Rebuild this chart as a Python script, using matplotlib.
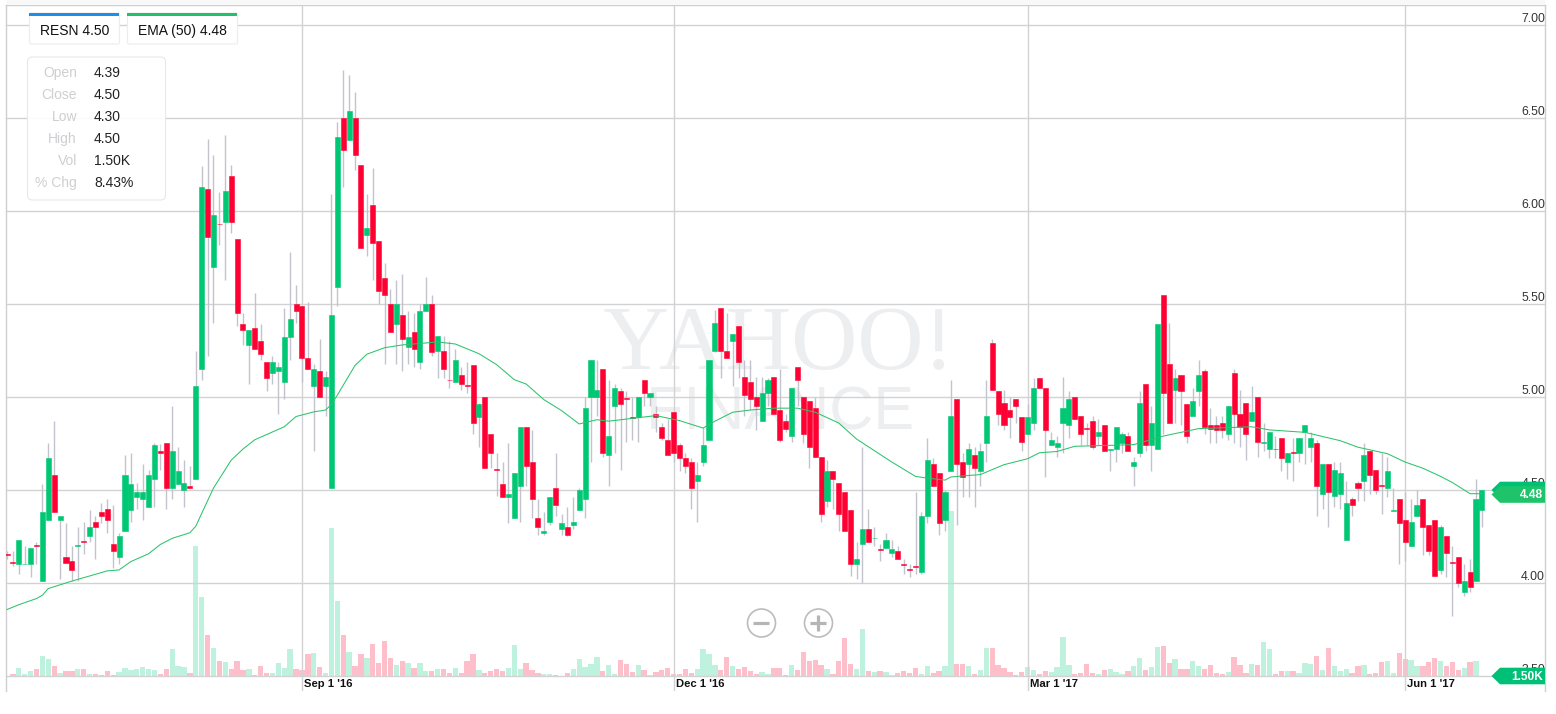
import matplotlib
matplotlib.use("Agg")
import matplotlib.pyplot as plt
from matplotlib.patches import Circle, FancyBboxPatch, Polygon, Rectangle

plt.rcParams["font.family"] = ["Liberation Sans", "DejaVu Sans"]

# ----- data -----
opens = [
    4.155, 4.113, 4.10, 4.10, 4.10, 4.203, 4.01, 4.34, 4.58, 4.34,
    4.14, 4.12, 4.20, 4.223, 4.25, 4.33, 4.38, 4.40, 4.21, 4.14,
    4.28, 4.39, 4.46, 4.45, 4.41, 4.56, 4.71, 4.75, 4.51, 4.53,
    4.50, 4.52, 4.56, 5.15, 6.12, 5.70, 5.933, 5.94, 6.19, 5.85,
    5.39, 5.28, 5.37, 5.30, 5.19, 5.13, 5.14, 5.08, 5.32, 5.50,
    5.49, 5.21, 5.06, 5.14, 5.06, 4.51, 5.59, 6.50, 6.38, 6.50,
    6.25, 5.87, 6.03, 5.84, 5.64, 5.50, 5.39, 5.44, 5.27, 5.35,
    5.19, 5.46, 5.50, 5.25, 5.25, 5.093, 5.08, 5.12, 5.063, 5.17,
    4.89, 5.00, 4.80, 4.613, 4.53, 4.46, 4.35, 4.52, 4.84, 4.65,
    4.35, 4.27, 4.33, 4.51, 4.29, 4.30, 4.31, 4.39, 4.45, 5.00,
    5.00, 5.15, 4.69, 4.95, 5.03, 4.993, 4.893, 4.89, 5.09, 5.00,
    4.91, 4.84, 4.77, 4.92, 4.74, 4.67, 4.65, 4.55, 4.65, 4.77,
    5.25, 5.48, 5.25, 5.30, 5.38, 5.11, 5.08, 5.00, 4.87, 5.02,
    5.11, 4.93, 4.87, 4.79, 5.16, 5.00, 4.98, 4.94, 4.68, 4.44,
    4.60, 4.54, 4.49, 4.39, 4.10, 4.21, 4.29, 4.24, 4.18, 4.19,
    4.16, 4.17, 4.10, 4.073, 4.09, 4.06, 4.36, 4.64, 4.59, 4.34,
    4.60, 4.99, 4.65, 4.64, 4.69, 4.60, 4.75, 5.29, 5.03, 4.97,
    4.93, 4.99, 4.89, 4.80, 4.86, 5.10, 5.05, 4.74, 4.73, 4.86,
    4.85, 5.00, 4.90, 4.835, 4.87, 4.79, 4.85, 4.715, 4.72, 4.75,
    4.79, 4.63, 4.70, 5.07, 4.74, 4.72, 5.55, 5.18, 5.04, 5.12,
    4.96, 4.90, 5.03, 5.14, 4.85, 4.85, 4.86, 4.80, 5.13, 4.91,
    4.97, 4.87, 5.00, 4.755, 4.72, 4.723, 4.78, 4.65, 4.703, 4.70,
    4.81, 4.73, 4.75, 4.48, 4.64, 4.47, 4.48, 4.23, 4.45, 4.54,
    4.55, 4.71, 4.61, 4.525, 4.51, 4.385, 4.45, 4.34, 4.20, 4.36,
    4.45, 4.31, 4.34, 4.07, 4.25, 4.115, 4.14, 3.95, 4.06, 4.01, 4.39,
]
closes = [
    4.15, 4.11, 4.23, 4.103, 4.19, 4.20, 4.38, 4.67, 4.38, 4.36,
    4.11, 4.07, 4.205, 4.22, 4.30, 4.30, 4.36, 4.34, 4.17, 4.25,
    4.58, 4.53, 4.49, 4.49, 4.58, 4.74, 4.70, 4.51, 4.71, 4.60,
    4.54, 4.51, 5.06, 6.13, 5.86, 5.98, 5.93, 6.11, 5.94, 5.45,
    5.36, 5.36, 5.26, 5.23, 5.10, 5.19, 5.16, 5.32, 5.42, 5.46,
    5.21, 5.15, 5.15, 5.00, 5.11, 5.44, 6.40, 6.33, 6.54, 6.30,
    5.80, 5.91, 5.83, 5.57, 5.55, 5.35, 5.50, 5.31, 5.32, 5.26,
    5.46, 5.50, 5.24, 5.33, 5.15, 5.09, 5.20, 5.07, 5.06, 4.86,
    4.96, 4.62, 4.70, 4.61, 4.46, 4.48, 4.59, 4.84, 4.63, 4.45,
    4.30, 4.28, 4.46, 4.42, 4.32, 4.26, 4.33, 4.50, 4.94, 5.20,
    5.04, 4.70, 4.79, 5.05, 4.96, 4.99, 4.885, 5.00, 5.02, 5.02,
    4.89, 4.78, 4.69, 4.70, 4.67, 4.63, 4.51, 4.58, 4.74, 5.20,
    5.40, 5.25, 5.21, 5.34, 5.19, 5.01, 4.99, 4.95, 5.02, 5.09,
    4.91, 4.77, 4.83, 5.05, 5.09, 4.80, 4.73, 4.68, 4.37, 4.60,
    4.56, 4.37, 4.28, 4.10, 4.13, 4.29, 4.22, 4.243, 4.175, 4.23,
    4.18, 4.13, 4.095, 4.07, 4.085, 4.36, 4.66, 4.52, 4.32, 4.49,
    4.90, 4.64, 4.57, 4.72, 4.62, 4.71, 4.90, 5.04, 4.91, 4.85,
    4.89, 4.95, 4.76, 4.89, 5.05, 5.05, 4.82, 4.77, 4.75, 4.94,
    4.99, 4.88, 4.80, 4.83, 4.73, 4.81, 4.71, 4.72, 4.84, 4.80,
    4.71, 4.65, 4.97, 4.74, 4.86, 5.39, 5.02, 4.86, 5.10, 5.03,
    4.79, 4.98, 5.12, 4.84, 4.83, 4.82, 4.82, 4.95, 4.91, 4.84,
    4.80, 4.92, 4.76, 4.76, 4.81, 4.72, 4.67, 4.70, 4.70, 4.78,
    4.85, 4.78, 4.52, 4.64, 4.49, 4.61, 4.59, 4.43, 4.42, 4.51,
    4.69, 4.58, 4.50, 4.52, 4.60, 4.39, 4.32, 4.22, 4.33, 4.42,
    4.30, 4.17, 4.04, 4.30, 4.16, 4.11, 4.00, 4.01, 3.98, 4.45, 4.50,
]
lows = [
    4.13, 4.09, 4.05, 4.10, 4.03, 4.10, 4.01, 4.34, 4.38, 4.02,
    4.11, 4.01, 4.01, 4.155, 4.22, 4.13, 4.32, 4.27, 4.08, 4.10,
    4.28, 4.33, 4.40, 4.34, 4.41, 4.41, 4.61, 4.40, 4.45, 4.53,
    4.41, 4.51, 4.56, 5.09, 5.22, 5.40, 5.82, 5.63, 5.88, 5.38,
    5.28, 5.07, 5.26, 5.20, 5.03, 5.07, 4.91, 4.99, 5.20, 5.40,
    5.08, 5.15, 4.71, 5.00, 4.90, 4.51, 5.49, 6.13, 6.38, 6.22,
    5.80, 5.76, 5.63, 5.50, 5.18, 5.35, 5.18, 5.14, 5.18, 5.16,
    5.15, 5.46, 5.22, 5.10, 5.10, 5.05, 5.08, 5.04, 5.02, 4.80,
    4.73, 4.62, 4.62, 4.47, 4.46, 4.32, 4.35, 4.33, 4.52, 4.35,
    4.26, 4.26, 4.31, 4.36, 4.26, 4.25, 4.29, 4.39, 4.35, 4.65,
    4.90, 4.68, 4.52, 4.70, 4.61, 4.76, 4.77, 4.76, 4.95, 4.95,
    4.81, 4.77, 4.69, 4.65, 4.60, 4.59, 4.40, 4.33, 4.63, 4.77,
    5.24, 5.10, 5.21, 5.06, 5.10, 4.90, 4.93, 4.82, 4.87, 4.95,
    4.91, 4.76, 4.81, 4.76, 4.95, 4.75, 4.62, 4.68, 4.33, 4.41,
    4.40, 4.28, 4.28, 4.04, 4.02, 4.00, 4.22, 4.20, 4.12, 4.19,
    4.14, 4.13, 4.05, 4.03, 4.05, 4.05, 4.32, 4.52, 4.26, 4.28,
    4.60, 4.31, 4.46, 4.46, 4.41, 4.52, 4.65, 5.04, 4.85, 4.82,
    4.78, 4.86, 4.71, 4.80, 4.82, 5.05, 4.57, 4.74, 4.68, 4.70,
    4.78, 4.88, 4.74, 4.74, 4.72, 4.74, 4.71, 4.60, 4.65, 4.70,
    4.71, 4.52, 4.68, 4.71, 4.60, 4.72, 4.80, 4.86, 4.86, 4.85,
    4.75, 4.90, 4.95, 4.80, 4.75, 4.75, 4.78, 4.77, 4.75, 4.73,
    4.66, 4.87, 4.68, 4.71, 4.67, 4.67, 4.60, 4.56, 4.55, 4.65,
    4.64, 4.65, 4.36, 4.40, 4.30, 4.41, 4.40, 4.23, 4.36, 4.44,
    4.44, 4.48, 4.48, 4.37, 4.46, 4.39, 4.10, 4.12, 4.20, 4.36,
    4.15, 4.15, 4.04, 4.05, 4.03, 3.82, 3.98, 3.93, 3.95, 4.01, 4.30,
]
highs = [
    4.17, 4.17, 4.23, 4.20, 4.19, 4.22, 4.53, 4.75, 4.87, 4.36,
    4.32, 4.20, 4.30, 4.33, 4.39, 4.36, 4.43, 4.45, 4.42, 4.27,
    4.69, 4.70, 4.54, 4.64, 4.61, 4.75, 4.745, 4.75, 4.95, 4.73,
    4.66, 4.63, 5.25, 6.24, 6.39, 6.30, 6.10, 6.41, 6.25, 5.85,
    5.45, 5.36, 5.56, 5.39, 5.19, 5.22, 5.19, 5.48, 5.78, 5.60,
    5.49, 5.51, 5.18, 5.31, 5.14, 6.09, 6.48, 6.76, 6.73, 6.64,
    6.25, 6.09, 6.23, 5.84, 5.72, 5.58, 5.63, 5.66, 5.46, 5.45,
    5.50, 5.645, 5.55, 5.33, 5.33, 5.30, 5.26, 5.16, 5.19, 5.17,
    4.97, 5.00, 4.80, 4.70, 4.65, 4.75, 4.59, 4.84, 4.84, 4.82,
    4.45, 4.38, 4.46, 4.70, 4.37, 4.41, 4.46, 4.51, 5.00, 5.20,
    5.20, 5.15, 5.09, 5.07, 5.05, 5.03, 5.00, 5.00, 5.09, 5.02,
    4.95, 4.86, 4.88, 4.92, 4.75, 4.70, 4.67, 4.65, 4.84, 5.20,
    5.47, 5.48, 5.45, 5.34, 5.38, 5.20, 5.20, 5.11, 5.11, 5.10,
    5.11, 5.15, 4.91, 5.05, 5.16, 5.00, 4.98, 5.00, 4.68, 4.66,
    4.60, 4.54, 4.49, 4.39, 4.22, 4.73, 4.40, 4.30, 4.21, 4.27,
    4.23, 4.20, 4.13, 4.10, 4.49, 4.38, 4.78, 4.67, 4.59, 4.50,
    5.09, 4.99, 4.70, 4.75, 4.73, 4.75, 5.09, 5.31, 5.03, 5.04,
    5.00, 4.99, 4.89, 4.96, 5.10, 5.10, 5.05, 4.81, 4.79, 5.11,
    5.03, 5.00, 4.90, 4.86, 4.90, 4.88, 4.85, 4.72, 4.84, 4.81,
    4.81, 4.68, 5.03, 5.07, 4.95, 5.39, 5.55, 5.40, 5.15, 5.12,
    4.96, 5.05, 5.20, 5.15, 4.94, 4.90, 4.90, 4.95, 5.15, 5.04,
    4.97, 5.06, 5.00, 4.86, 4.81, 4.79, 4.78, 4.70, 4.78, 4.78,
    4.85, 4.81, 4.77, 4.64, 4.64, 4.65, 4.65, 4.55, 4.46, 4.55,
    4.75, 4.71, 4.61, 4.70, 4.68, 4.51, 4.45, 4.49, 4.45, 4.50,
    4.45, 4.31, 4.34, 4.31, 4.25, 4.20, 4.14, 4.10, 4.13, 4.56, 4.50,
]
# volume in thousands; the last session shows no bar in the picture
volumes = [
    0.05, 0.2, 0.77, 0.17, 0.5, 0.67, 1.97, 1.67, 0.97, 0.27,
    0.53, 0.5, 0.73, 0.7, 0.17, 0.2, 0.07, 0.47, 0.1, 0.37,
    0.83, 0.6, 0.73, 0.9, 0.67, 0.63, 0.17, 0.7, 2.67, 0.97,
    0.9, 0.27, 13.0, 7.93, 4.07, 2.8, 1.5, 1.37, 0.73, 1.47,
    0.6, 0.67, 0.07, 0.97, 0.3, 0.3, 1.3, 0.77, 2.7, 0.7,
    0.63, 2.23, 2.3, 0.87, 0.3, 14.8, 7.47, 4.13, 2.4, 1.0,
    2.17, 1.83, 3.17, 1.27, 3.53, 1.83, 1.1, 1.47, 1.3, 0.77,
    1.33, 0.5, 0.5, 0.73, 0.67, 0.27, 0.77, 0.3, 1.53, 2.23,
    0.57, 0.27, 0.47, 0.73, 0.47, 0.77, 3.07, 0.7, 1.33, 0.57,
    0.33, 0.2, 0.17, 0.13, 0.03, 0.33, 0.73, 1.67, 0.87, 1.17,
    1.9, 0.53, 1.07, 0.17, 1.57, 1.17, 0.43, 1.13, 0.6, 0.07,
    0.37, 0.6, 0.77, 0.17, 0.17, 0.73, 0.33, 0.67, 2.7, 2.17,
    1.07, 0.57, 1.87, 0.97, 0.67, 0.87, 0.5, 0.2, 0.4, 0.17,
    0.77, 0.8, 0.1, 1.07, 0.57, 2.37, 1.47, 1.63, 1.1, 0.73,
    0.23, 1.47, 3.83, 1.23, 0.7, 4.7, 0.47, 0.37, 0.53, 0.37,
    0.1, 0.27, 0.47, 0.27, 0.83, 0.17, 0.97, 0.27, 0.47, 0.97,
    16.5, 1.23, 1.17, 0.97, 0.17, 0.57, 2.8, 2.77, 1.07, 0.8,
    0.37, 0.13, 0.37, 0.87, 0.63, 0.17, 0.53, 0.37, 0.93, 3.9,
    1.13, 0.17, 0.33, 1.17, 0.33, 0.17, 0.57, 0.67, 0.37, 0.2,
    0.53, 0.97, 1.77, 0.57, 0.87, 2.87, 2.97, 1.33, 1.73, 0.7,
    0.7, 1.5, 1.0, 0.67, 1.13, 0.3, 0.2, 0.43, 1.93, 1.1,
    0.27, 1.23, 1.07, 3.37, 2.67, 0.2, 0.47, 0.47, 0.53, 0.27,
    1.27, 1.17, 1.97, 0.6, 2.8, 0.97, 0.5, 0.67, 0.33, 0.97,
    1.1, 0.17, 0.33, 1.37, 1.47, 0.3, 2.27, 1.67, 1.63, 0.97,
    0.97, 1.43, 1.77, 1.53, 0.97, 1.37, 0.6, 0.77, 1.43, 1.53, 0.0,
]
ema_idx = [
    0, 2, 5, 6, 7, 9, 11, 17, 19, 21, 24, 26, 28, 31, 32, 35, 38, 40, 42, 47,
    49, 52, 54, 55, 56, 59, 61, 64, 67, 73, 76, 80, 83, 86, 88, 91, 94, 97,
    100, 102, 106, 110, 114, 118, 120, 123, 126, 130, 134, 137, 141, 144, 150,
    154, 156, 159, 160, 165, 169, 173, 175, 178, 181, 187, 191, 196, 199, 202,
    211, 214, 220, 226, 229, 234, 237, 240, 243, 245, 248, 250,
]
ema_vals = [
    3.857, 3.883, 3.916, 3.934, 3.97, 3.99, 4.01, 4.065, 4.07, 4.115, 4.157,
    4.207, 4.24, 4.27, 4.305, 4.51, 4.66, 4.72, 4.77, 4.84, 4.895, 4.92, 4.93,
    4.96, 5.01, 5.17, 5.23, 5.265, 5.28, 5.296, 5.285, 5.233, 5.174, 5.093,
    5.07, 4.986, 4.927, 4.855, 4.878, 4.87, 4.885, 4.90, 4.873, 4.833, 4.87,
    4.918, 4.93, 4.94, 4.94, 4.918, 4.86, 4.774, 4.65, 4.573, 4.564, 4.553,
    4.57, 4.583, 4.636, 4.668, 4.70, 4.707, 4.735, 4.74, 4.744, 4.79, 4.81,
    4.83, 4.84, 4.823, 4.81, 4.765, 4.73, 4.695, 4.65, 4.617, 4.573, 4.54,
    4.48, 4.48,
]
price_ticks = [3.5, 4.0, 4.5, 5.0, 5.5, 6.0, 6.5, 7.0]
date_idx = [50, 113, 173, 237]
date_labels = ["Sep 1 '16", "Dec 1 '16", "Mar 1 '17", "Jun 1 '17"]
info_names = ["Open", "Close", "Low", "High", "Vol", "% Chg"]
info_values = ["4.39", "4.50", "4.30", "4.50", "1.50K", "8.43%"]

# ----- style -----
W, H = 1556, 714
GREEN = "#00c773"
RED = "#ff0033"
WICK = "#c3c3cd"
GRID = "#d2d2d4"

fig = plt.figure(figsize=(W / 100, H / 100), dpi=100, facecolor="white")
pos = [6.5 / W, (H - 691) / H, (1545 - 6.5) / W, (691 - 5) / H]

# watermark sits under everything else
wm = fig.add_axes([0, 0, 1, 1], zorder=0)
wm.set_xlim(0, W)
wm.set_ylim(H, 0)
wm.axis("off")
wm.text(603, 369, "YAHOO!", family="Liberation Serif", fontsize=66, color="#edeef0", va="baseline")
wm.text(646, 429, "FINANCE", fontsize=44, color="#edeef0", va="baseline")

# volume panel, 10 px per 1K with the baseline on the 3.50 line
ax_v = fig.add_axes(pos, zorder=1)
ax_v.patch.set_alpha(0)
ax_v.axis("off")
ax_v.set_xlim(-0.08, 260.7)
ax_v.set_ylim(-1.5, 67.1)

ax = fig.add_axes(pos, zorder=2)
ax.patch.set_alpha(0)
ax.set_xlim(-0.08, 260.7)
ax.set_ylim(3.419, 7.108)
ax.set_axisbelow(True)
ax.set_yticks(price_ticks)
ax.set_xticks(date_idx)
ax.set_xticklabels([])
ax.set_yticklabels([])
ax.tick_params(length=0)
ax.grid(True, color=GRID, linewidth=1.0)
for side in ["left", "right", "top"]:
    ax.spines[side].set_color("#cfcfd1")
    ax.spines[side].set_linewidth(1.0)
ax.spines["bottom"].set_visible(False)

idx = list(range(len(closes)))
up = [c >= o for o, c in zip(opens, closes)]
colors = [GREEN if u else RED for u in up]
vol_colors = ["#bff2de" if u else "#ffbfca" for u in up]

ax_v.bar(idx, volumes, width=0.9, color=vol_colors, linewidth=0)

ax.vlines(idx, lows, highs, color=WICK, linewidth=1.0, zorder=3)
ax.bar(idx, [abs(c - o) for o, c in zip(opens, closes)], bottom=[min(o, c) for o, c in zip(opens, closes)],
       width=0.86, color=colors, edgecolor=colors, linewidth=0.4, zorder=4)
ax.plot(ema_idx, ema_vals, color="#2cc36b", linewidth=0.75, zorder=5)

for p in price_ticks:
    ax.annotate(f"{p:.2f}", xy=(1, p), xycoords=("axes fraction", "data"), xytext=(0, 4.6),
                textcoords="offset points", ha="right", va="center", fontsize=8.8, color="#333333")
for i, lab in zip(date_idx, date_labels):
    ax.annotate(lab, xy=(i, 0), xycoords=("data", "axes fraction"), xytext=(1.6, 5),
                textcoords="offset points", ha="left", va="center", fontsize=8.1,
                fontweight="bold", color="#111111")

# ----- chrome drawn in pixel coordinates -----
ui = fig.add_axes([0, 0, 1, 1], zorder=3)
ui.patch.set_alpha(0)
ui.set_xlim(0, W)
ui.set_ylim(H, 0)
ui.axis("off")


def pill(x0, x1, color, text):
    ui.add_patch(FancyBboxPatch((x0, 13), x1 - x0, 31, boxstyle="round,pad=0,rounding_size=2",
                                fc="white", ec="#ececee", lw=0.8))
    ui.add_patch(Rectangle((x0, 13), x1 - x0, 2.6, fc=color, ec="none"))
    ui.text((x0 + x1) / 2, 31, text, ha="center", va="center", fontsize=10, color="#111111")


def tag(yc, color, text=None, half=8.3):
    ui.add_patch(Polygon([(1545, yc - half), (1500, yc - half), (1491.5, yc), (1500, yc + half), (1545, yc + half)],
                         closed=True, fc=color, ec="none"))
    if text:
        ui.text(1543.5, yc + 0.5, text, ha="right", va="center", fontsize=8.6, fontweight="bold", color="white")


ui.add_patch(Rectangle((7, 0), 1538, 5, fc="#f8f8f8", ec="none"))
pill(29.5, 119.5, "#1a90ea", "RESN 4.50")
pill(127.5, 237.5, "#1fc26b", "EMA (50) 4.48")

ui.add_patch(FancyBboxPatch((27.5, 57), 138, 143, boxstyle="round,pad=0,rounding_size=5",
                            fc=(1, 1, 1, 0.9), ec="#e8e8ea", lw=0.8))
for k, (name, val) in enumerate(zip(info_names, info_values)):
    y = 73 + 22 * k
    ui.text(77, y, name, ha="right", va="center", fontsize=10, color="#cfcfd3")
    ui.text(94, y, val, ha="left", va="center", fontsize=10, color="#222222")

tag(490, "#00bf77")
tag(494.5, "#1fc46a", "4.48")
tag(676, "#00bf77", "1.50K")

for cx in [761.5, 818.5]:
    ui.add_patch(Circle((cx, 623), 14, fc="white", ec="#bcbcbc", lw=1.2))
    ui.plot([cx - 8, cx + 8], [623, 623], color="#b5b5b5", lw=2.3, solid_capstyle="butt")
ui.plot([818.5, 818.5], [615, 631], color="#b5b5b5", lw=2.3, solid_capstyle="butt")

plt.savefig("out.png", dpi=100)
